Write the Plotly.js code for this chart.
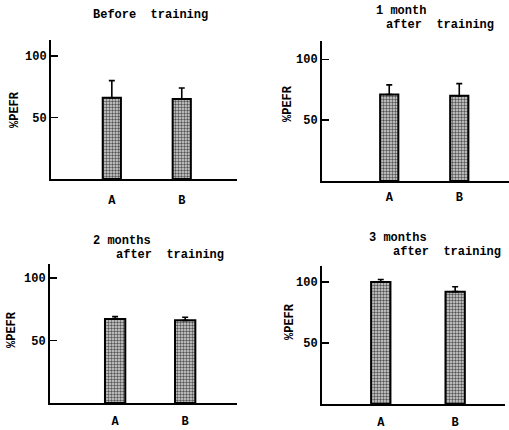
<!DOCTYPE html>
<html><head><meta charset="utf-8">
<script src="https://cdn.plot.ly/plotly-3.0.1.min.js"></script>
<style>html,body{margin:0;padding:0;background:#fff}</style>
</head><body><div id="chart" style="width:509px;height:430px"></div>
<script>
const categories = ['A', 'B'];
const beforeMean = [66, 65];
const beforeErr = [14, 9];
const month1Mean = [71, 70];
const month1Err = [8, 10];
const month2Mean = [67, 66];
const month2Err = [2, 2.5];
const month3Mean = [100, 92];
const month3Err = [2, 4];
const yTickVals = [50, 100];
const yTickText = ['50', '100'];

const W = 509, H = 430;
const FONT = '"Liberation Mono", "DejaVu Sans Mono", monospace';

function bar(means, errs, n, width) {
  return {
    type: 'bar', x: categories, y: means,
    xaxis: n === 1 ? 'x' : 'x' + n, yaxis: n === 1 ? 'y' : 'y' + n,
    width: width,
    marker: {
      color: '#cfcfcf',
      line: {color: '#000', width: 2},
      pattern: {shape: '.', fgcolor: '#555', bgcolor: '#dadada', size: 3, solidity: 0.5}
    },
    error_y: {type: 'data', symmetric: false, array: errs, arrayminus: errs.map(() => 0),
      color: '#000', thickness: 1.6, width: 3},
    showlegend: false, hoverinfo: 'none'
  };
}

const data = [
  bar(beforeMean, beforeErr, 1, 0.26),
  bar(month1Mean, month1Err, 2, 0.26),
  bar(month2Mean, month2Err, 3, 0.29),
  bar(month3Mean, month3Err, 4, 0.26)
];

function xax(anchor, px0, px1, r, stand) {
  return {anchor: anchor, domain: [px0 / W, px1 / W], range: r, showline: true, linecolor: '#000', linewidth: 2,
    showgrid: false, zeroline: false, ticks: '', ticklabelstandoff: stand,
    tickfont: {family: FONT, size: 12, color: '#000', weight: 'bold'}, fixedrange: true};
}
function yax(anchor, pxTop, pxBot, maxv) {
  return {anchor: anchor, domain: [1 - pxBot / H, 1 - pxTop / H], range: [0, maxv], showline: true, linecolor: '#000', linewidth: 2,
    showgrid: false, zeroline: false, ticks: 'inside', ticklen: 7, tickwidth: 1.5, tickcolor: '#000',
    tickvals: yTickVals, ticktext: yTickText, ticklabelstandoff: 0,
    tickfont: {family: FONT, size: 12, color: '#000', weight: 'bold'}, fixedrange: true};
}

function ann(text, x, y, xanchor, size, angle) {
  return {text: text, x: x / W, y: 1 - y / H, xref: 'paper', yref: 'paper', showarrow: false,
    xanchor: xanchor || 'center', yanchor: 'middle', textangle: angle || 0, borderpad: 0,
    font: {family: FONT, size: size || 12, color: '#000', weight: 'bold'}};
}

const layout = {
  width: W, height: H, margin: {l: 0, r: 0, t: 0, b: 0},
  paper_bgcolor: '#fff', plot_bgcolor: 'rgba(0,0,0,0)', bargap: 0,
  xaxis: xax('y', 51, 237, [-0.87, 1.79], 9), yaxis: yax('x', 40, 179, 113),
  xaxis2: xax('y2', 322, 509, [-0.96, 1.71], 4), yaxis2: yax('x2', 41, 181, 115),
  xaxis3: xax('y3', 50, 237, [-0.93, 1.74], 6), yaxis3: yax('x3', 264, 403, 111),
  xaxis4: xax('y4', 322, 505, [-0.79, 1.67], 6), yaxis4: yax('x4', 266, 404, 113),
  annotations: [
    ann('Before\u00a0\u00a0training', 150, 15, 'center'),
    ann('1 month', 375, 11, 'left'),
    ann('after\u00a0\u00a0training', 385, 25, 'left'),
    ann('2 months', 92, 241, 'left'),
    ann('after\u00a0\u00a0training', 115, 255, 'left'),
    ann('3 months', 368, 238, 'left'),
    ann('after\u00a0\u00a0training', 392, 252, 'left'),
    ann('%PEFR', 15, 110, 'center', 12, -90),
    ann('%PEFR', 288, 104, 'center', 12, -90),
    ann('%PEFR', 12, 330, 'center', 12, -90),
    ann('%PEFR', 290, 322, 'center', 12, -90)
  ]
};

Plotly.newPlot('chart', data, layout, {staticPlot: true, displayModeBar: false});
</script></body></html>
